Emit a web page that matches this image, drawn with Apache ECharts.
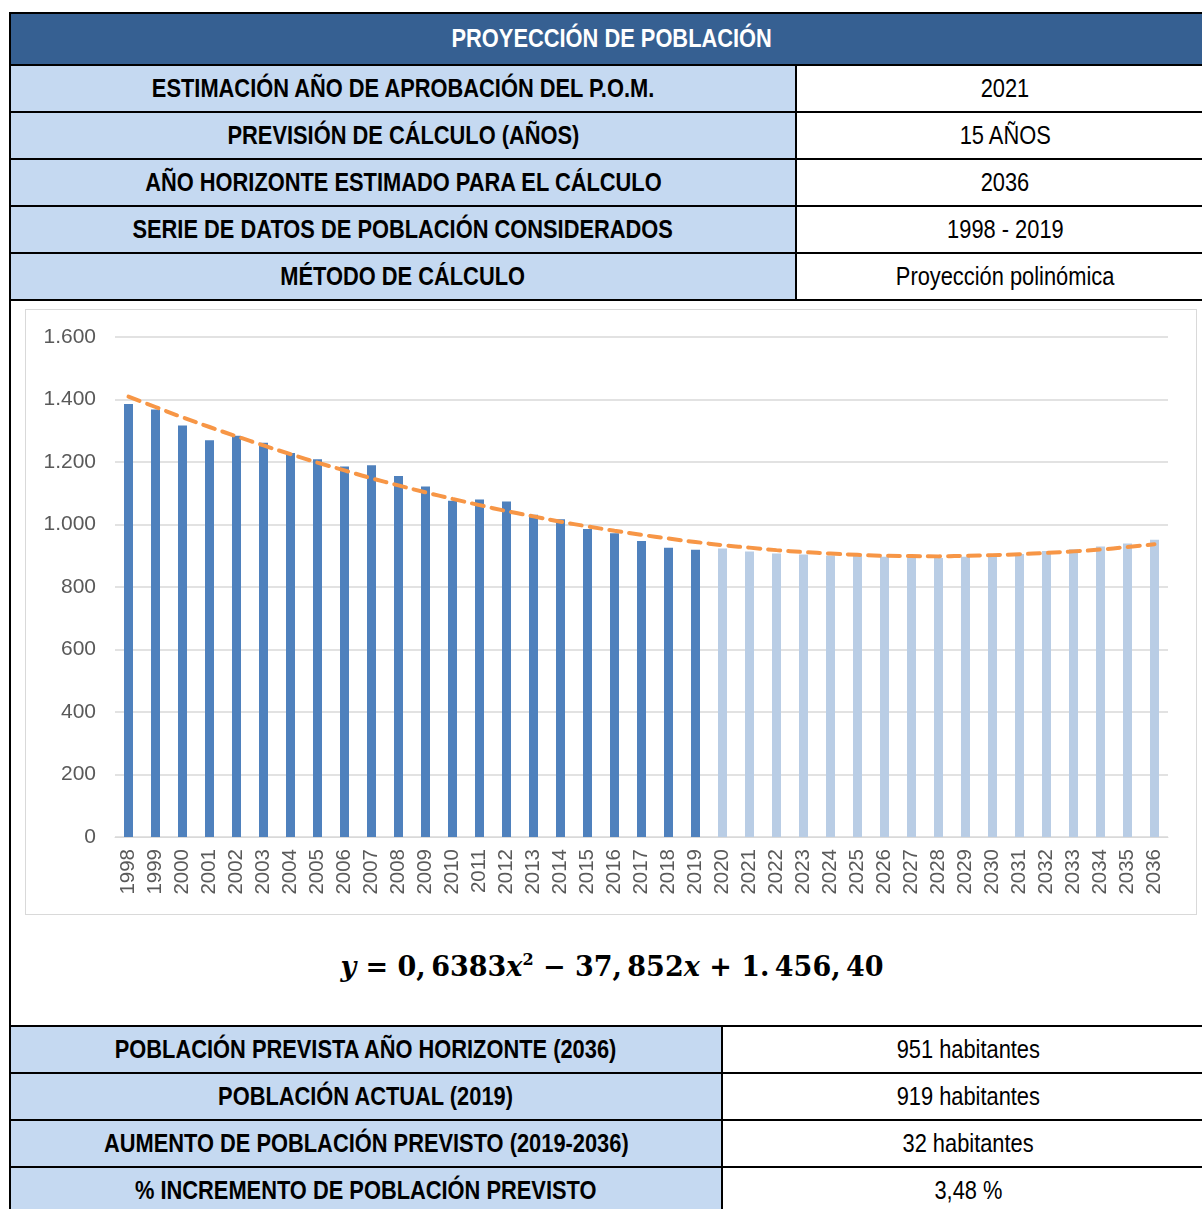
<!DOCTYPE html>
<html>
<head>
<meta charset="utf-8">
<script src="https://cdn.jsdelivr.net/npm/echarts@6/dist/echarts.min.js"></script>
<style>
  html, body { margin: 0; padding: 0; background: #fff; }
  body { width: 1202px; height: 1209px; overflow: hidden; position: relative; }
  .cell {
    position: absolute; box-sizing: border-box;
    display: flex; align-items: center; justify-content: center;
    font-family: 'Liberation Sans', Arial, sans-serif;
    font-size: 26px; color: #000; white-space: nowrap;
  }
  .cell span { display: inline-block; transform: scaleX(0.84); }
  .head { background: #366092; color: #fff; font-weight: bold; }
  .lbl { background: #C5D9F1; font-weight: bold; }
  .val { background: #fff; }
  .hl { position: absolute; height: 2px; background: #000; }
  .vl { position: absolute; width: 2px; background: #000; }
  #chart { position: absolute; left: 25px; top: 309px; width: 1172px; height: 606px;
           box-sizing: border-box; border: 1px solid #D9D9D9; }
  #eq { position: absolute; left: 0; width: 1224px; top: 951px; text-align: center;
        font-family: 'DejaVu Serif', 'Liberation Serif', serif; font-weight: bold; font-size: 27px; color: #000; }
  #eq i { font-style: italic; }
  #eq sup { font-size: 16px; vertical-align: 11px; line-height: 0; }
</style>
</head>
<body>
<div id="tables"></div>
<div id="chart"></div>
<div id="eq"><i>y</i> = 0,&#8201;6383<i>x</i><sup>2</sup> − 37,&#8201;852<i>x</i> + 1.&#8201;456,&#8201;40</div>
<script>
// Population table rows
const headTitle = 'PROYECCIÓN DE POBLACIÓN';
const topRows = [
  ['ESTIMACIÓN AÑO DE APROBACIÓN DEL P.O.M.', '2021'],
  ['PREVISIÓN DE CÁLCULO (AÑOS)', '15 AÑOS'],
  ['AÑO HORIZONTE ESTIMADO PARA EL CÁLCULO', '2036'],
  ['SERIE DE DATOS DE POBLACIÓN CONSIDERADOS', '1998 - 2019'],
  ['MÉTODO DE CÁLCULO', 'Proyección polinómica']
];
const bottomRows = [
  ['POBLACIÓN PREVISTA AÑO HORIZONTE (2036)', '951 habitantes'],
  ['POBLACIÓN ACTUAL (2019)', '919 habitantes'],
  ['AUMENTO DE POBLACIÓN PREVISTO (2019-2036)', '32 habitantes'],
  ['% INCREMENTO DE POBLACIÓN PREVISTO', '3,48 %']
];

// Chart data
const years = [];
for (let y = 1998; y <= 2036; y++) years.push(String(y));
const historico = [1386, 1368, 1317, 1270, 1284, 1262, 1229, 1209, 1186, 1190, 1155,
                   1122, 1076, 1080, 1074, 1031, 1017, 986, 972, 947, 926, 919];
const proyeccion = [923, 914, 907, 904, 901, 899, 897, 894, 893, 897, 902, 906,
                    915, 921, 930, 939, 951];
const tendencia = [1409, 1376, 1343, 1312, 1282, 1253, 1225, 1198, 1173, 1148, 1125,
                   1103, 1082, 1062, 1043, 1026, 1009, 994, 980, 967, 955, 944,
                   934, 926, 918, 912, 907, 903, 900, 899, 898, 900, 902, 905,
                   909, 914, 920, 928, 937];
const yTicks = [0, 200, 400, 600, 800, 1000, 1200, 1400, 1600];

// ---- tables ----
const T = document.getElementById('tables');
function add(cls, l, t, w, h, text) {
  const d = document.createElement('div');
  d.className = cls;
  d.style.left = l + 'px'; d.style.top = t + 'px';
  if (w != null) d.style.width = w + 'px';
  if (h != null) d.style.height = h + 'px';
  if (text != null) {
    const s = document.createElement('span');
    s.textContent = text;
    d.appendChild(s);
  }
  T.appendChild(d);
  return d;
}
add('cell head', 10, 12, 1204, 53, headTitle);
topRows.forEach((r, i) => {
  const top = 65 + 47 * i;
  add('cell lbl', 10, top, 786, 47, r[0]);
  add('cell val', 796, top, 418, 47, r[1]);
});
bottomRows.forEach((r, i) => {
  const top = 1026 + 47 * i;
  add('cell lbl', 10, top, 712, 47, r[0]);
  add('cell val', 722, top, 492, 47, r[1]);
});
[12, 64, 111, 158, 205, 252, 299].forEach(y => add('hl', 10, y, 1200, null));
[1025, 1072, 1119, 1166].forEach(y => add('hl', 10, y, 1200, null));
add('vl', 9, 12, null, 1200);
add('vl', 795, 64, null, 237);
add('vl', 721, 1025, null, 190);

// ---- chart ----
const chart = echarts.init(document.getElementById('chart'));
const barData = years.map((y, i) => {
  if (i < historico.length) return { value: historico[i], itemStyle: { color: '#4F81BD' } };
  return { value: proyeccion[i - historico.length], itemStyle: { color: '#B9CDE5' } };
});
const fmt = v => String(v).replace(/\B(?=(\d{3})+(?!\d))/g, '.');

chart.setOption({
  animation: false,
  grid: { left: 89, right: 28, top: 27, bottom: 77 },
  xAxis: {
    type: 'category',
    data: years,
    axisLine: { show: true, lineStyle: { color: '#D9D9D9', width: 1 } },
    axisTick: { show: false },
    axisLabel: {
      rotate: 90, interval: 0, margin: 12,
      color: '#595959', fontSize: 20.5, fontFamily: 'Liberation Sans, Arial, sans-serif'
    }
  },
  yAxis: {
    type: 'value', min: yTicks[0], max: yTicks[yTicks.length - 1], interval: 200,
    axisLine: { show: false }, axisTick: { show: false },
    splitLine: { lineStyle: { color: '#D9D9D9', width: 1.5 } },
    axisLabel: {
      margin: 19, color: '#595959', fontSize: 21,
      fontFamily: 'Liberation Sans, Arial, sans-serif', formatter: fmt
    }
  },
  series: [
    { type: 'bar', data: barData, barWidth: 9 },
    {
      type: 'line', data: tendencia, smooth: true, symbol: 'none', z: 5,
      lineStyle: { color: '#F79646', width: 4, type: [12, 8], cap: 'round' }
    }
  ]
});
</script>
</body>
</html>
